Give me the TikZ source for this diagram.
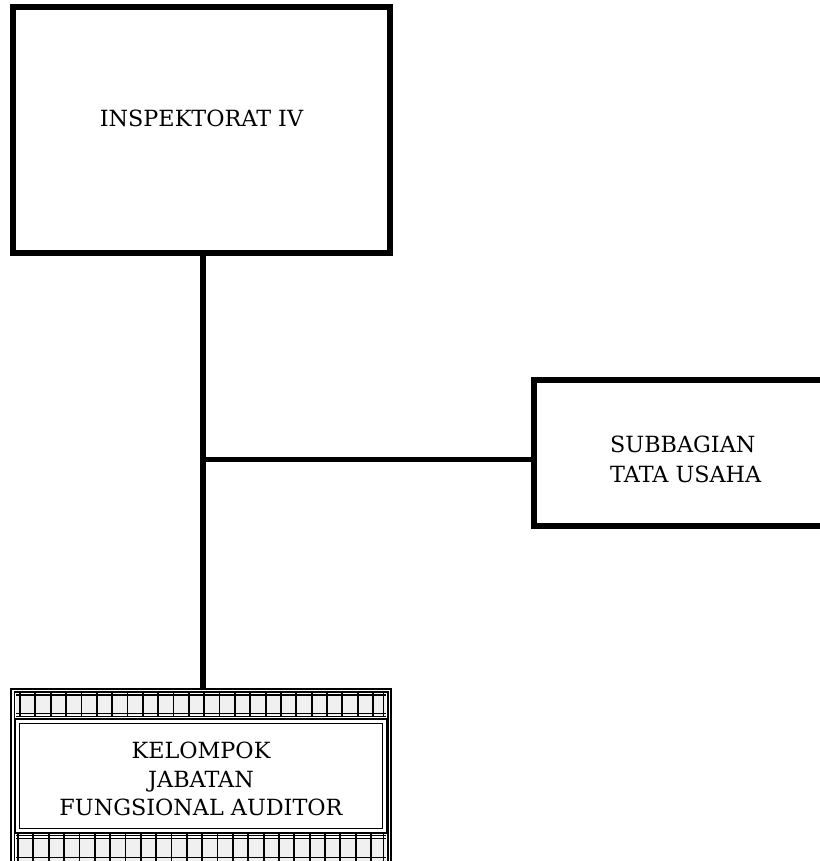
\documentclass[tikz,border=0pt]{standalone}
\usepackage{fontspec}
\setmainfont{DejaVu Serif}
\begin{document}
\begin{tikzpicture}[x=1pt,y=-1pt,
  boxthick/.style={draw=black,line width=5.5pt,rectangle,outer sep=0pt,inner sep=0pt},
  conn/.style={draw=black,line width=5.5pt},
  lbl/.style={font=\fontsize{22.3pt}{30.5pt}\selectfont,inner sep=0pt},
  thin/.style={draw=black,line width=1.4pt},
  grid/.style={draw=black,line width=1.8pt},
  band/.style={fill=black!6}]
\useasboundingbox (0,0) rectangle (819,861);
% top box
\node[boxthick,minimum width=377pt,minimum height=246pt] (insp) at (201.5,130) {};
\node[lbl] (insptext) at (201.5,118) {INSPEKTORAT IV};
% subbagian box (right side cut off)
\node[boxthick,minimum width=296pt,minimum height=146pt] (sub) at (682,453) {};
\node[lbl,align=left,anchor=west] (subtext) at (610,459.5) {SUBBAGIAN\\TATA USAHA};
% bottom box outer frame
\node[thin,rectangle,outer sep=0pt,inner sep=0pt,minimum width=380pt,minimum height=181pt] (kel) at (201,779.5) {};
\draw[thin] (14.5,692) rectangle (388,875);
% top band
\fill[band] (16,695) rectangle (386,715);
\draw[thin] (16,695) -- (386,695);
\draw[grid] (16,713.5) -- (386,713.5);
\draw[grid] (16,716.5) -- (386,716.5);
\foreach \i in {0,...,23} {\draw[grid] ({20+15.35*\i},692) -- ({20+15.35*\i},717);}
\draw[grid] (383.5,692) -- (383.5,717);
% inner box
\node[draw=black,line width=1.6pt,rectangle,outer sep=0pt,minimum width=372pt,minimum height=114pt] (inner) at (201,776) {};
\draw[line width=1.6pt] (19.5,723.5) rectangle (382.5,828.5);
\node[lbl,align=center,font=\fontsize{22.3pt}{28.5pt}\selectfont] (keltext) at (201,779) {KELOMPOK\\JABATAN\\FUNGSIONAL AUDITOR};
% bottom band
\fill[band] (16,838) rectangle (386,875);
\draw[grid] (16,835.5) -- (386,835.5);
\draw[grid] (16,838.5) -- (386,838.5);
\draw[grid] (16,857.5) -- (386,857.5);
\foreach \i in {0,...,23} {\draw[grid] ({18+15.35*\i},834) -- ({18+15.35*\i},875);}
\draw[grid] (383.5,834) -- (383.5,875);
% connectors
\coordinate (j) at (203,459.5);
\draw[conn] (insp.south -| j) -- (kel.north -| j);
\draw[conn] (j) -- (sub.west |- j);
\end{tikzpicture}
\end{document}
